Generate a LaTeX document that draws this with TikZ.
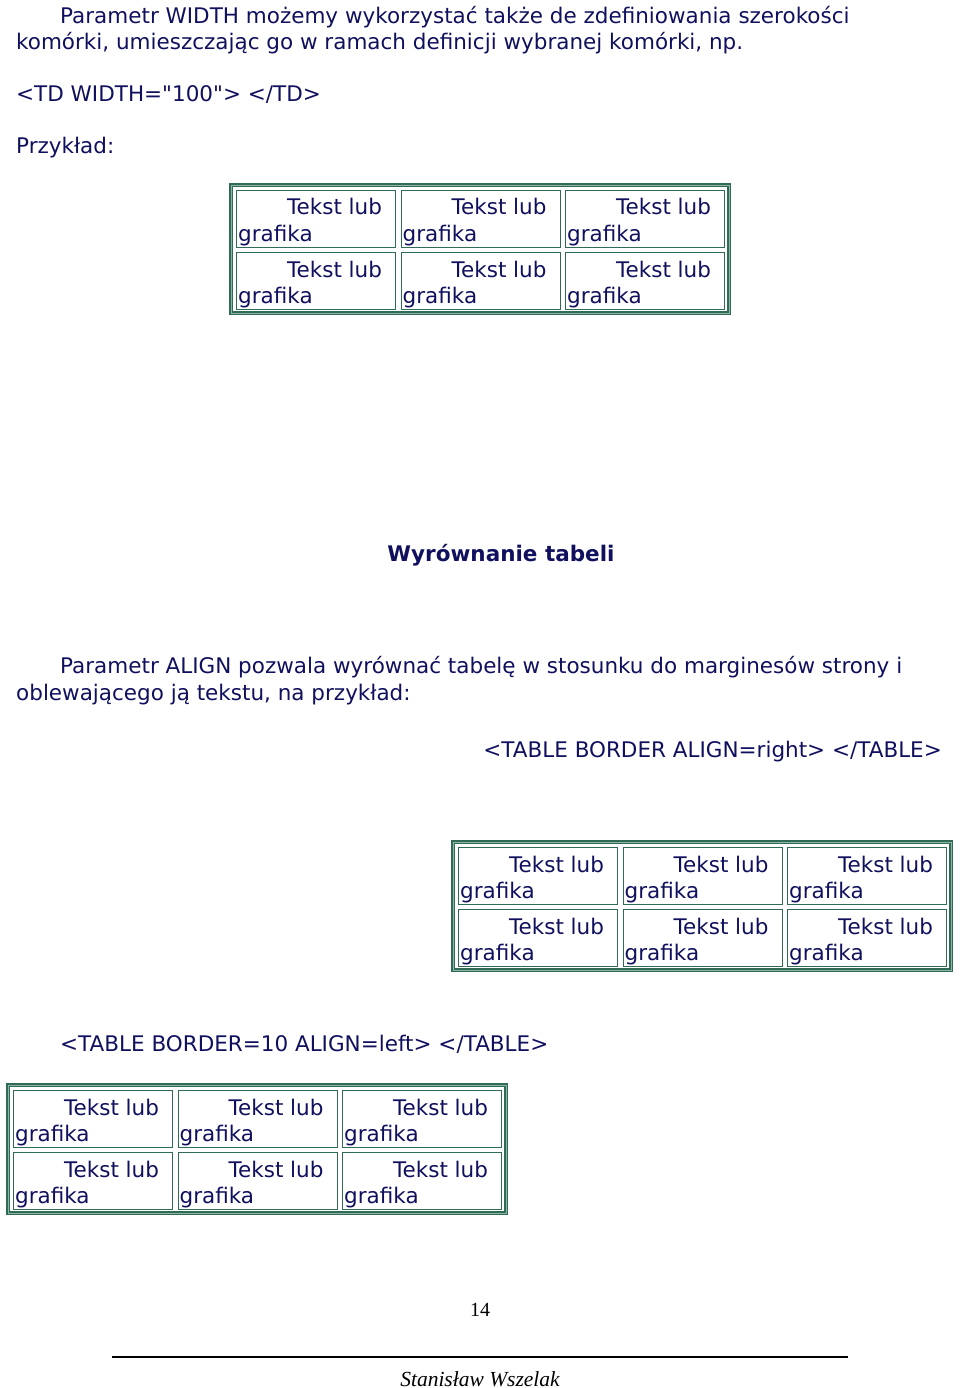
\documentclass[tikz,border=0pt]{standalone}
\usepackage{fontspec}
\setmainfont{DejaVu Sans}
\newfontfamily\serifpage{Liberation Serif}
\usepackage{xcolor}
\definecolor{d_navy}{HTML}{10105E}
\definecolor{d_green}{HTML}{2F6B55}
\definecolor{l_green}{HTML}{8FB5A5}

\begin{document}
\begin{tikzpicture}[x=1pt,y=-1pt,
  txt/.style={anchor=base west,inner sep=0pt,text=d_navy,font=\fontsize{21.5}{24}\selectfont},
  cellbox/.style={draw=d_green,line width=1.2pt,minimum width=159pt,minimum height=57pt,anchor=north west,inner sep=0pt},
  outerbox/.style={draw=d_green,line width=2pt,double=l_green,double distance=.6pt}]
\useasboundingbox (0,0) rectangle (960,1388);

\node[txt] (p1) at (60,24) {Parametr WIDTH możemy wykorzystać także de zdefiniowania szerokości};
\node[txt] (p2) at (16,50) {komórki, umieszczając go w ramach definicji wybranej komórki, np.};
\node[txt] (p3) at (16,102) {<TD WIDTH=\textquotedbl100\textquotedbl> </TD>};
\node[txt] (p4) at (16,154) {Przykład:};

\node[txt,anchor=base,font=\fontsize{21.5}{24}\selectfont\bfseries] (head) at (501,561) {Wyrównanie tabeli};

\node[txt] (p5) at (60,673) {Parametr ALIGN pozwala wyrównać tabelę w stosunku do marginesów strony i};
\node[txt] (p6) at (16,700) {oblewającego ją tekstu, na przykład:};
\node[txt,anchor=base east] (p7) at (942,757) {<TABLE BORDER ALIGN=right> </TABLE>};
\node[txt] (p8) at (60,1051) {<TABLE BORDER=10 ALIGN=left> </TABLE>};

% three tables: left edge / top edge
\foreach \tx/\ty/\tn in {231/185/a,453/842/b,8/1085/c}{
  \draw[outerbox] (\tx,\ty) rectangle ++(498,128);
  \foreach \c in {0,1,2}
  \foreach \r in {0,1}{
    \node[cellbox] (\tn\r\c) at (\tx+5+\c*164.5,\ty+5+\r*62) {};
    \node[txt,anchor=base east] at ([xshift=-14pt,yshift=-25pt]\tn\r\c.north east) {Tekst lub};
    \node[txt] at ([xshift=2pt,yshift=-51pt]\tn\r\c.north west) {grafika};
  }
}

\node[anchor=base,inner sep=0pt,font=\serifpage\fontsize{20}{24}\selectfont] (page) at (480,1316) {14};
\draw[line width=1.5pt] (112,1357) -- (848,1357);
\node[anchor=base,inner sep=0pt,font=\serifpage\itshape\fontsize{21.5}{24}\selectfont] (author) at (480,1386) {Stanisław Wszelak};
\end{tikzpicture}
\end{document}
